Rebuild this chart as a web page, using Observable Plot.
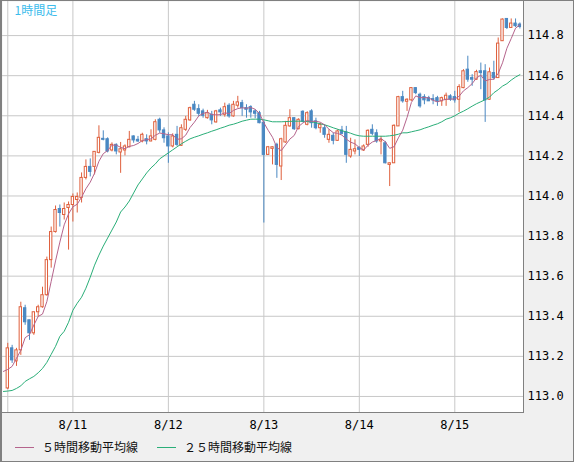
<!DOCTYPE html>
<html><head><meta charset="utf-8">
<script src="https://cdn.jsdelivr.net/npm/d3@7"></script>
<script src="https://cdn.jsdelivr.net/npm/@observablehq/plot@0.6"></script>
<style>
html,body{margin:0;padding:0;background:#fff;}
#wrap{position:relative;width:574px;height:462px;box-sizing:border-box;border:1px solid #808080;border-left:2px solid #808080;background:#f0f0f0;overflow:hidden;}
#wrap svg{position:absolute;left:0;top:0;display:block;}
.lg-line{position:absolute;height:1px;}
.lg-text{position:absolute;font:12px "Noto Sans CJK JP";line-height:16px;color:#111;white-space:nowrap;}
</style></head>
<body><div id="wrap"></div>
<script>
// ---- data (1時間足, index = hour bar) ----
const opens = [113.04,113.24,113.175,113.23,113.44,113.38,113.315,113.42,113.445,113.505,
113.68,113.82,113.935,113.905,113.94,113.955,113.98,113.99,114.09,114.145,
114.145,114.215,114.285,114.283,114.227,114.255,114.217,114.227,114.243,114.297,
114.28,114.272,114.283,114.272,114.28,114.38,114.327,114.297,114.247,114.305,
114.25,114.33,114.377,114.455,114.433,114.422,114.388,114.405,114.367,114.427,
114.405,114.45,114.397,114.45,114.463,114.438,114.443,114.422,114.413,114.365,
114.205,114.235,114.255,114.147,114.267,114.347,114.388,114.333,114.42,114.355,
114.422,114.372,114.338,114.338,114.28,114.30,114.275,114.327,114.317,114.197,
114.222,114.24,114.227,114.255,114.33,114.313,114.272,114.263,114.155,114.163,
114.347,114.493,114.47,114.477,114.538,114.505,114.493,114.488,114.483,114.488,
114.472,114.48,114.497,114.493,114.48,114.538,114.63,114.588,114.58,114.622,
114.622,114.48,114.613,114.588,114.772,114.883,114.838,114.86,114.855];
const highs = [113.265,113.255,113.24,113.47,113.455,113.38,113.42,113.455,113.545,113.695,
113.845,113.95,113.955,113.965,113.97,114.01,114.015,114.115,114.18,114.185,
114.22,114.35,114.325,114.29,114.265,114.26,114.267,114.255,114.322,114.30,
114.297,114.313,114.305,114.33,114.38,114.388,114.34,114.315,114.31,114.347,
114.355,114.397,114.443,114.472,114.455,114.433,114.427,114.422,114.427,114.438,
114.463,114.46,114.472,114.497,114.477,114.455,114.45,114.43,114.422,114.375,
114.247,114.245,114.263,114.288,114.372,114.43,114.39,114.385,114.425,114.42,
114.43,114.388,114.363,114.355,114.33,114.313,114.33,114.347,114.347,114.288,
114.28,114.245,114.255,114.33,114.355,114.33,114.297,114.272,114.165,114.355,
114.497,114.522,114.485,114.538,114.54,114.513,114.505,114.497,114.505,114.497,
114.493,114.513,114.505,114.522,114.555,114.63,114.697,114.605,114.627,114.663,
114.655,114.638,114.672,114.788,114.883,114.883,114.883,114.883,114.863];
const lows = [113.035,113.165,113.15,113.205,113.355,113.28,113.305,113.395,113.44,113.50,
113.64,113.815,113.845,113.88,113.73,113.87,113.915,113.965,114.08,114.095,
114.105,114.21,114.275,114.215,114.22,114.205,114.113,114.20,114.24,114.263,
114.267,114.265,114.255,114.27,114.275,114.313,114.263,114.163,114.24,114.247,
114.247,114.322,114.372,114.422,114.397,114.388,114.383,114.355,114.363,114.397,
114.393,114.388,114.393,114.438,114.397,114.388,114.388,114.385,114.36,113.865,
114.202,114.155,114.088,114.077,114.263,114.343,114.327,114.33,114.365,114.35,
114.338,114.33,114.313,114.288,114.263,114.255,114.272,114.305,114.163,114.188,
114.205,114.197,114.222,114.243,114.30,114.263,114.205,114.16,114.047,114.163,
114.347,114.463,114.422,114.472,114.505,114.438,114.455,114.472,114.455,114.447,
114.447,114.447,114.472,114.463,114.417,114.535,114.567,114.547,114.577,114.53,
114.367,114.477,114.577,114.588,114.772,114.83,114.838,114.84,114.833];
const closes = [113.24,113.18,113.23,113.445,113.37,113.315,113.42,113.445,113.505,113.68,
113.82,113.93,113.915,113.935,113.955,113.995,113.995,114.09,114.145,114.12,
114.22,114.29,114.28,114.222,114.255,114.222,114.233,114.247,114.28,114.277,
114.272,114.305,114.272,114.297,114.368,114.327,114.288,114.247,114.297,114.255,
114.338,114.38,114.438,114.43,114.41,114.40,114.413,114.377,114.422,114.417,
114.443,114.397,114.455,114.467,114.438,114.43,114.417,114.41,114.363,114.205,
114.243,114.243,114.155,114.283,114.35,114.388,114.333,114.38,114.37,114.413,
114.363,114.338,114.355,114.305,114.305,114.275,114.322,114.31,114.205,114.23,
114.233,114.23,114.247,114.325,114.31,114.272,114.28,114.163,114.163,114.35,
114.493,114.472,114.48,114.538,114.513,114.447,114.477,114.472,114.477,114.472,
114.488,114.50,114.48,114.477,114.543,114.622,114.58,114.58,114.618,114.613,
114.477,114.617,114.588,114.76,114.88,114.838,114.86,114.847,114.843];
// 5時間移動平均線: values read for the first bars (history before the window), rest from closes
const ma5Head = [113.125,113.135,113.15,113.19,113.23]; // bars -1..3
// 25時間移動平均線, bars -1..118
const ma25 = [113.025,113.027,113.03,113.04,113.053,113.075,113.088,113.10,113.118,113.14,113.17,
113.21,113.25,113.30,113.325,113.37,113.43,113.465,113.495,113.54,113.595,
113.655,113.705,113.75,113.79,113.83,113.87,113.92,113.945,113.975,114.015,
114.055,114.085,114.115,114.14,114.16,114.185,114.20,114.215,114.23,114.245,
114.26,114.273,114.285,114.293,114.30,114.308,114.315,114.323,114.33,114.338,
114.345,114.353,114.358,114.365,114.373,114.378,114.383,114.383,114.383,114.38,
114.375,114.37,114.37,114.37,114.371,114.372,114.373,114.373,114.373,114.371,
114.37,114.365,114.36,114.355,114.348,114.34,114.333,114.325,114.32,114.313,
114.305,114.30,114.298,114.298,114.298,114.298,114.298,114.298,114.30,114.303,
114.308,114.315,114.315,114.32,114.325,114.33,114.338,114.345,114.353,114.36,
114.37,114.383,114.39,114.40,114.413,114.423,114.435,114.448,114.46,114.47,
114.48,114.493,114.515,114.53,114.548,114.56,114.578,114.593,114.605];
const yTicks = [113.0,113.2,113.4,113.6,113.8,114.0,114.2,114.4,114.6,114.8];
const dayBars = [0,15,37,59,81,103];
const dayLabels = ["","8/11","8/12","8/13","8/14","8/15"];
const title = "1時間足";
const legendNames = ["５時間移動平均線","２５時間移動平均線"];

// ---- build ----
const UP = "#df5f3c", DOWN = "#4a88c2", MA5C = "#b5648c", MA25C = "#2aae78";
const candles = opens.map((o,i)=>({i, open:o, high:highs[i], low:lows[i], close:closes[i], up: closes[i] >= o}));
const ma5Data = [{i:-1, v:ma5Head[0]}].concat(closes.map((c,i)=>({i, v: i<4 ? ma5Head[i+1] : d3.mean(closes.slice(i-4,i+1))})));
const ma25Data = ma25.map((v,k)=>({i:k-1, v}));
const labelMap = new Map(dayBars.map((d,k)=>[d, dayLabels[k]]));

const chart = Plot.plot({
  width: 571, height: 439,
  marginLeft: 0, marginTop: 0, marginRight: 50, marginBottom: 28,
  style: {background: "transparent", fontFamily: "DejaVu Sans Mono", fontSize: "12px", color: "#000"},
  x: {domain: [-1.22, 118.83], axis: null},
  y: {domain: [112.92, 114.97], axis: null},
  color: {type: "identity"},
  marks: [
    Plot.frame({fill: "white"}),
    Plot.gridY(yTicks, {stroke: "#c8c8c8", strokeOpacity: 1}),
    Plot.gridX(dayBars, {stroke: "#c8c8c8", strokeOpacity: 1}),
    Plot.axisY(yTicks, {anchor: "right", label: null, tickSize: 0, tickPadding: 4, tickFormat: d => d.toFixed(1), fill: "#000"}),
    Plot.axisX(dayBars, {anchor: "bottom", label: null, tickSize: 0, tickPadding: 8, tickFormat: d => labelMap.get(d) ?? "", fill: "#000"}),
    Plot.ruleX(candles, {x: "i", y1: "low", y2: "high", stroke: d => d.up ? UP : DOWN, strokeWidth: 1}),
    Plot.rect(candles, {x1: d => d.i - 0.27, x2: d => d.i + 0.27, y1: "open", y2: "close",
      fill: d => d.up ? "white" : DOWN, stroke: d => d.up ? UP : DOWN, strokeWidth: 1}),
    Plot.line(ma25Data, {x: "i", y: "v", stroke: MA25C, strokeWidth: 1}),
    Plot.line(ma5Data, {x: "i", y: "v", stroke: MA5C, strokeWidth: 1}),
    Plot.text([title], {frameAnchor: "top-left", lineAnchor: "middle", dx: 12, dy: 10, fill: "#3cbcec", fontSize: 12, fontFamily: "Noto Sans CJK JP"}),
    Plot.frame({anchor: "right", stroke: "#808080"}),
    Plot.frame({anchor: "bottom", stroke: "#808080"})
  ]
});
const wrap = document.getElementById("wrap");
wrap.appendChild(chart);

// legend
const lg = [
  {name: legendNames[0], color: MA5C, lx: 13, tx: 40},
  {name: legendNames[1], color: MA25C, lx: 155, tx: 182}
];
lg.forEach(d => {
  const ln = document.createElement("div");
  ln.className = "lg-line";
  ln.style.left = d.lx + "px"; ln.style.top = "446px"; ln.style.width = "19px"; ln.style.background = d.color;
  wrap.appendChild(ln);
  const tx = document.createElement("div");
  tx.className = "lg-text";
  tx.style.left = d.tx + "px"; tx.style.top = "438px";
  tx.textContent = d.name;
  wrap.appendChild(tx);
});
</script>
</body></html>
